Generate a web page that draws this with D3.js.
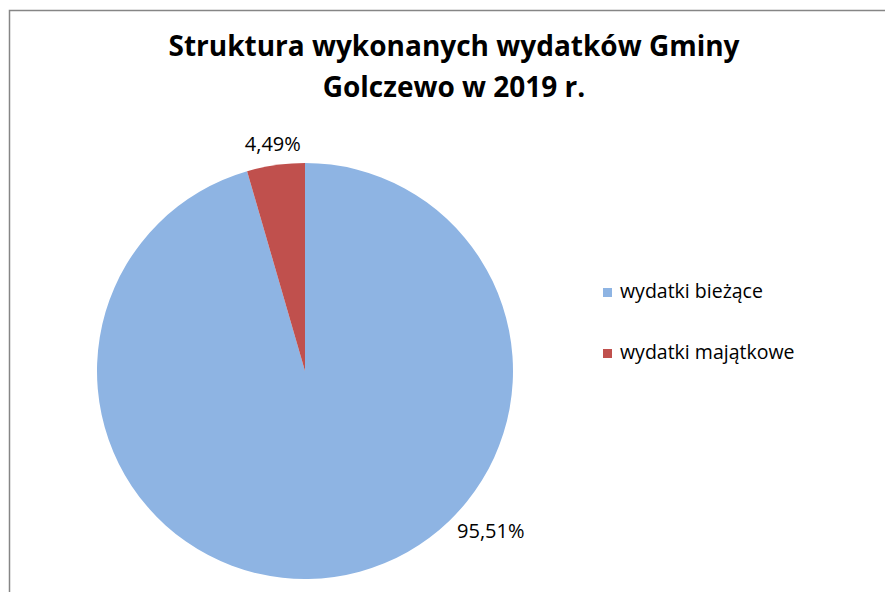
<!DOCTYPE html>
<html>
<head>
<meta charset="utf-8">
<script src="https://cdn.jsdelivr.net/npm/d3@7"></script>
<style>
	body { margin: 0; background: #fff; }
	text { font-family: "Open Sans", sans-serif; }
</style>
</head>
<body>
<svg id="chart" width="885" height="592"></svg>
<script>
var titleLines = ["Struktura wykonanych wydatków Gminy", "Golczewo w 2019 r."];
var categories = ["wydatki bieżące", "wydatki majątkowe"];
var shares = [95.51, 4.49];
var colors = ["#8EB4E3", "#C0504D"];

var svg = d3.select("#chart");

// chart area frame (right and bottom edges fall outside the picture)
svg.append("rect")
	.attr("x", 9.5).attr("y", 10.5)
	.attr("width", 900).attr("height", 600)
	.attr("fill", "#fff")
	.attr("stroke", "#868686")
	.attr("stroke-width", 1.5);

svg.selectAll(".title")
	.data(titleLines)
	.enter().append("text")
	.attr("class", "title")
	.attr("x", 454)
	.attr("y", function(d, i) { return 56 + i * 41; })
	.attr("text-anchor", "middle")
	.attr("font-size", "28px")
	.attr("font-weight", "bold")
	.attr("fill", "#000")
	.text(function(d) { return d; });

var data = categories.map(function(c, i) { return {name: c, value: shares[i], color: colors[i]}; });

var cx = 305, cy = 371, radius = 208;

var pie = d3.pie().sort(null).value(function(d) { return d.value; });
var arc = d3.arc().innerRadius(0).outerRadius(radius);

var g = svg.append("g").attr("transform", "translate(" + cx + "," + cy + ")");

var arcs = pie(data);

g.selectAll(".slice")
	.data(arcs)
	.enter().append("path")
	.attr("class", "slice")
	.attr("d", arc)
	.attr("fill", function(d) { return d.data.color; });

// label placement like excel "best fit": small slice along its middle, big one lower right
var labelAngle = [130.7 * Math.PI / 180, null];
var labelRadius = [245, 229];

function fmt(v) { return v.toFixed(2).replace(".", ",") + "%"; }

g.selectAll(".lbl")
	.data(arcs)
	.enter().append("text")
	.attr("class", "lbl")
	.attr("x", function(d, i) {
		var a = labelAngle[i] != null ? labelAngle[i] : (d.startAngle + d.endAngle) / 2;
		return Math.sin(a) * labelRadius[i];
	})
	.attr("y", function(d, i) {
		var a = labelAngle[i] != null ? labelAngle[i] : (d.startAngle + d.endAngle) / 2;
		return -Math.cos(a) * labelRadius[i];
	})
	.attr("dy", "0.36em")
	.attr("text-anchor", "middle")
	.attr("font-size", "20px")
	.attr("fill", "#000")
	.text(function(d) { return fmt(d.data.value); });

var legend = svg.append("g").attr("transform", "translate(603,288)");

var item = legend.selectAll(".item")
	.data(data)
	.enter().append("g")
	.attr("class", "item")
	.attr("transform", function(d, i) { return "translate(0," + (i * 61) + ")"; });

item.append("rect")
	.attr("width", 9).attr("height", 9)
	.attr("fill", function(d) { return d.color; });

item.append("text")
	.attr("x", 17)
	.attr("y", 10)
	.attr("font-size", "19.5px")
	.attr("fill", "#000")
	.text(function(d) { return d.name; });
</script>
</body>
</html>
